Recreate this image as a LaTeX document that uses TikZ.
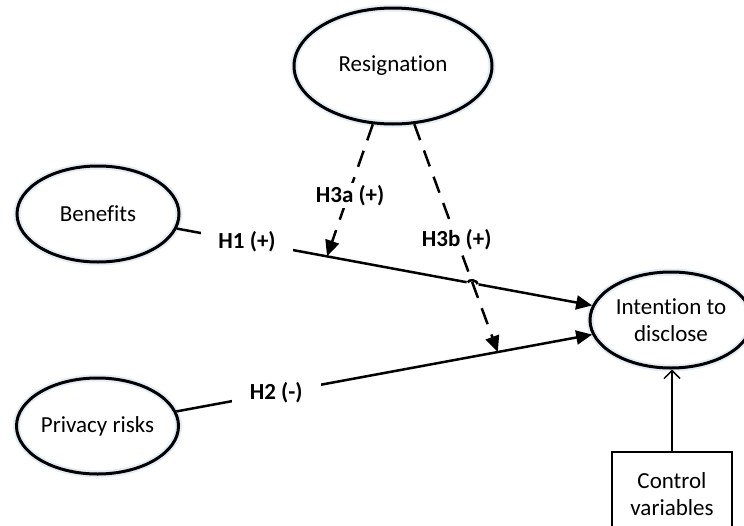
\documentclass[tikz,border=0pt]{standalone}
\usepackage{fontspec}
\setmainfont{Carlito}[Ligatures={NoCommon}]
\usetikzlibrary{arrows.meta,shapes.geometric,calc,intersections}
\definecolor{glow}{RGB}{226,237,247}
\begin{document}
\begin{tikzpicture}[x=1pt,y=-1pt,
  font=\fontsize{23}{27}\selectfont,
  construct/.style={ellipse, draw, line width=3pt, inner sep=0pt, align=center,
    preaction={draw=glow, line width=7pt}},
  ctlbox/.style={draw, line width=2.5pt, inner sep=0pt, align=center},
  hyp/.style={line width=2.5pt, -{Triangle[length=16pt,width=14pt]}},
  modline/.style={hyp, dash pattern=on 17pt off 11pt},
  lbl/.style={fill=white, font=\bfseries\fontsize{23}{27}\selectfont, inner ysep=2pt, inner xsep=4pt},
  ctlarrow/.style={line width=1.5pt, -{Straight Barb[length=8pt,width=16pt]}}
]
\useasboundingbox (0,0) rectangle (744,525);

\node[construct, minimum width=198pt, minimum height=116pt] (res) at (393,66) {Resignation};
\node[construct, minimum width=162pt, minimum height=96pt] (ben) at (98,214) {Benefits};
\node[construct, minimum width=162pt, minimum height=96pt] (pri) at (97.5,426) {Privacy risks};
\node[construct, minimum width=162pt, minimum height=96pt] (int) at (671,320) {Intention to\\disclose};
\node[ctlbox, minimum width=120pt, minimum height=84pt] (ctl) at (672,494) {Control\\variables};

% points on the main paths where moderators point
\path (ben.center) -- (int.center) coordinate[pos=0.3997] (m1);
\path (pri.center) -- (int.center) coordinate[pos=0.698] (m2);

% main effects
\draw[hyp, name path=h1] (ben) -- (int)
  node[lbl, pos=0.169, inner xsep=17pt] {H1 (+)};
\draw[hyp] (pri) -- (int)
  node[lbl, pos=0.24, inner xsep=18pt] {H2 (-)};

% line jump where H3b crosses H1
\path[name path=h3b] (res) -- (m2);
\path[name intersections={of=h1 and h3b, by=X}];
\draw[white, line width=4.5pt] ($(X)!6pt!(ben.center)$) -- ($(X)!6pt!(int.center)$);
\draw[line width=2.5pt] ($(X)!5pt!(ben.center)$) to[out=79, in=79] ($(X)!5pt!(int.center)$);

% moderation
\draw[modline] (res) -- (m1)
  node[lbl, pos=0.54, xshift=2pt] {H3a (+)};
\draw[modline] (res) -- (m2)
  node[lbl, pos=0.507] {H3b (+)};

% control variables
\draw[ctlarrow] (ctl.north) -- (ctl.north |- int.south);
\end{tikzpicture}
\end{document}
